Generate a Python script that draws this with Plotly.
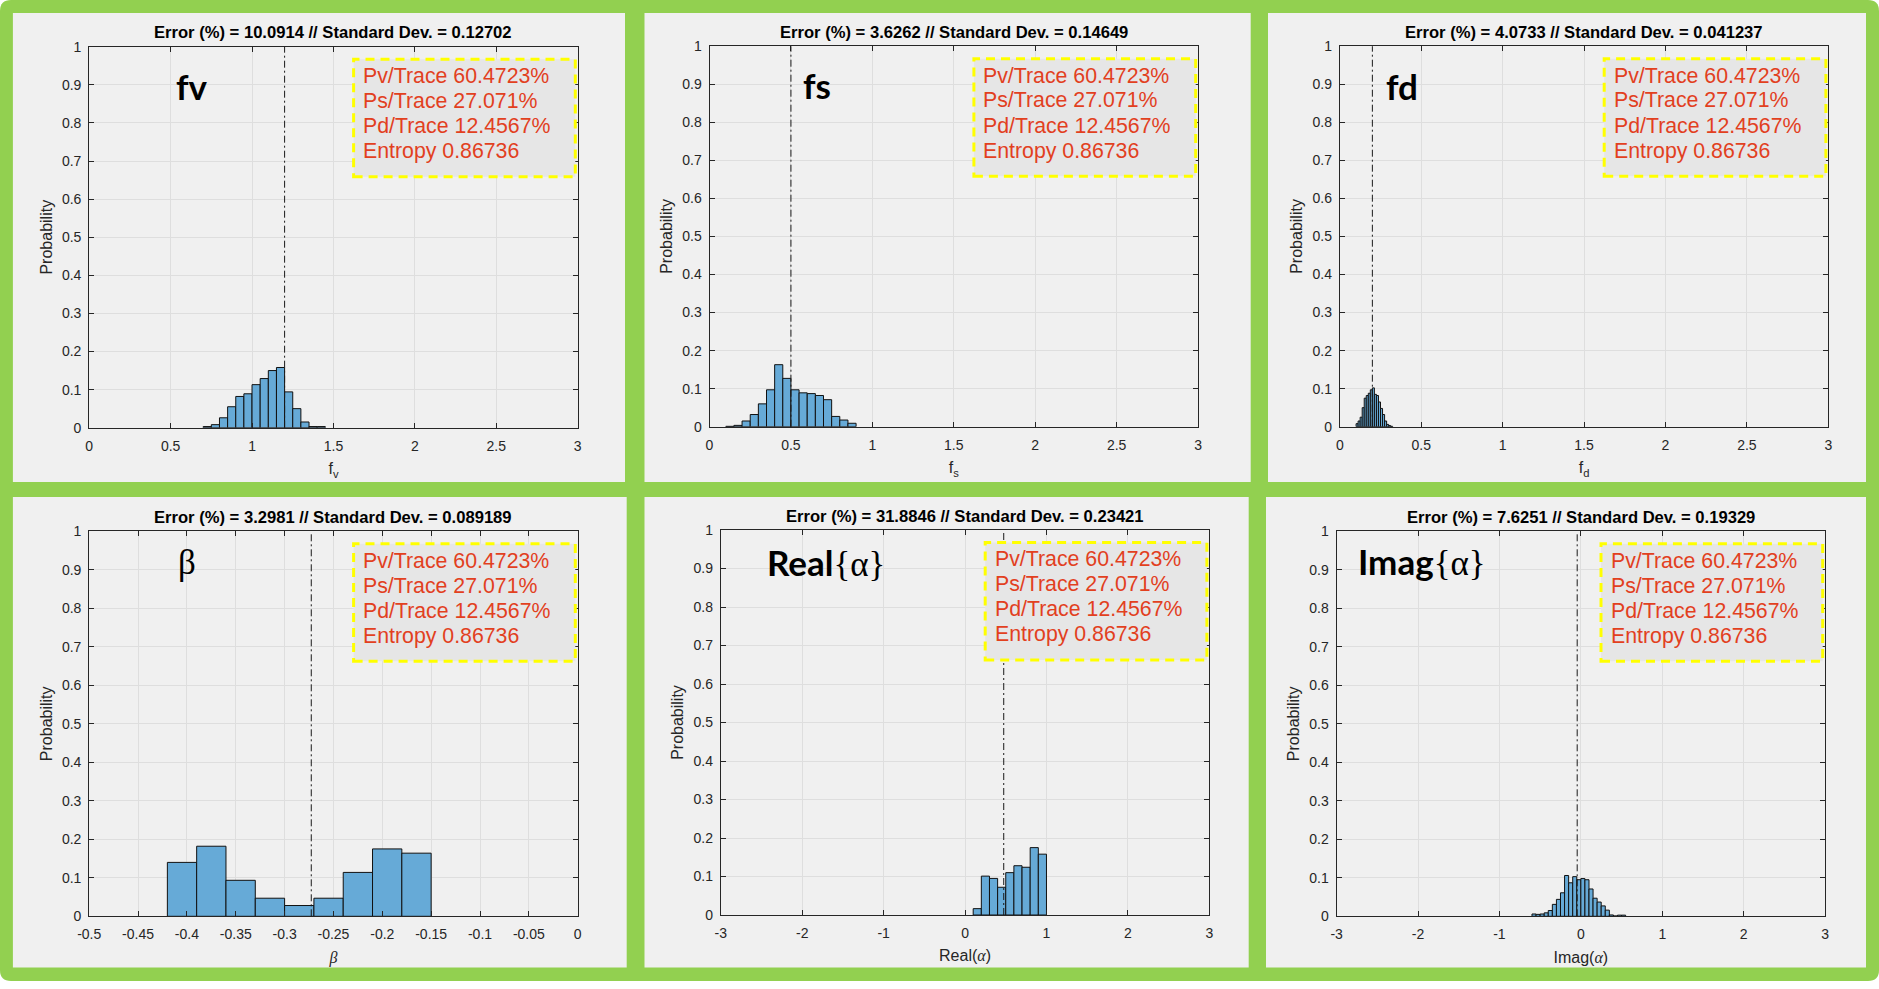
import numpy as np
import plotly.graph_objects as go

W, H = 1879, 989

# ---------------- data ----------------
titles = [
    "Error (%) = 10.0914 // Standard Dev. = 0.12702",
    "Error (%) = 3.6262 // Standard Dev. = 0.14649",
    "Error (%) = 4.0733 // Standard Dev. = 0.041237",
    "Error (%) = 3.2981 // Standard Dev. = 0.089189",
    "Error (%) = 31.8846 // Standard Dev. = 0.23421",
    "Error (%) = 7.6251 // Standard Dev. = 0.19329",
]
box_lines = ["Pv/Trace 60.4723%", "Ps/Trace 27.071%", "Pd/Trace 12.4567%", "Entropy 0.86736"]

fv_start, fv_bin = 0.70, 0.05
fv_prob = [0.003, 0.008, 0.026, 0.055, 0.082, 0.089, 0.113, 0.129, 0.150, 0.158,
           0.094, 0.050, 0.015, 0.003, 0.003]

fs_start, fs_bin = 0.10, 0.05
fs_prob = [0.001, 0.0035, 0.015, 0.032, 0.060, 0.097, 0.163, 0.127, 0.097, 0.089,
           0.087, 0.082, 0.071, 0.027, 0.0175, 0.009]

fd_start, fd_bin = 0.10, 0.0125
fd_prob = [0.008, 0.015, 0.025, 0.050, 0.075, 0.082, 0.088, 0.097, 0.102, 0.085,
           0.082, 0.065, 0.048, 0.032, 0.015, 0.006, 0.003, 0.001]

beta_start, beta_bin = -0.42, 0.03
beta_prob = [0.140, 0.182, 0.0935, 0.047, 0.028, 0.047, 0.114, 0.175, 0.164]

rea_start, rea_bin = 0.10, 0.10
rea_prob = [0.0165, 0.101, 0.095, 0.072, 0.110, 0.128, 0.124, 0.175, 0.158]

ima_start, ima_bin = -0.60, 0.05
ima_prob = [0.006, 0.005, 0.006, 0.009, 0.015, 0.031, 0.044, 0.061, 0.106, 0.087,
            0.103, 0.095, 0.098, 0.095, 0.071, 0.047, 0.037, 0.027, 0.016, 0.0035,
            0.001, 0.003, 0.003]

true_values = [1.2, 0.5, 0.2, -0.2727, 0.475, -0.045]

x_ranges = [[0, 3], [0, 3], [0, 3], [-0.5, 0], [-3, 3], [-3, 3]]
x_ticks = [
    [0, 0.5, 1, 1.5, 2, 2.5, 3],
    [0, 0.5, 1, 1.5, 2, 2.5, 3],
    [0, 0.5, 1, 1.5, 2, 2.5, 3],
    [-0.5, -0.45, -0.4, -0.35, -0.3, -0.25, -0.2, -0.15, -0.1, -0.05, 0],
    [-3, -2, -1, 0, 1, 2, 3],
    [-3, -2, -1, 0, 1, 2, 3],
]
y_ticks = [0, 0.1, 0.2, 0.3, 0.4, 0.5, 0.6, 0.7, 0.8, 0.9, 1]

SERIF = "Liberation Serif, Times New Roman, serif"
x_titles = [
    "f<sub>v</sub>",
    "f<sub>s</sub>",
    "f<sub>d</sub>",
    "<i><span style='font-family:%s'>β</span></i>" % SERIF,
    "Real(<i><span style='font-family:%s'>α</span></i>)" % SERIF,
    "Imag(<i><span style='font-family:%s'>α</span></i>)" % SERIF,
]
big_labels = [
    "<b>fv</b>",
    "<b>fs</b>",
    "<b>fd</b>",
    "<span style='font-family:%s'>β</span>" % SERIF,
    "<b>Real</b><span style='font-family:%s'>{α}</span>" % SERIF,
    "<b>Imag</b><span style='font-family:%s'>{α}</span>" % SERIF,
]

series = [
    (fv_start, fv_bin, fv_prob),
    (fs_start, fs_bin, fs_prob),
    (fd_start, fd_bin, fd_prob),
    (beta_start, beta_bin, beta_prob),
    (rea_start, rea_bin, rea_prob),
    (ima_start, ima_bin, ima_prob),
]

# ---------------- layout geometry (pixels) ----------------
plot_px = [
    (89.2, 46.7, 577.7, 427.7),
    (709.5, 46.2, 1198.1, 426.7),
    (1339.8, 46.2, 1828.3, 426.7),
    (89.2, 531.3, 577.7, 916.3),
    (720.8, 530.0, 1209.3, 915.0),
    (1336.6, 531.3, 1825.1, 916.3),
]
panel_px = [
    (12.9, 13, 625, 482),
    (644.5, 13, 1250.7, 482),
    (1268, 13, 1866, 482),
    (12.9, 497, 626.7, 967.5),
    (644.5, 497, 1248.7, 967.5),
    (1266, 497, 1866, 967.5),
]
title_y_px = [32.5, 32.5, 32.5, 517, 516.5, 517]
big_px = [(192, 86), (816.6, 84.5), (1401.5, 86), (187, 562.5), (826, 562), (1421.7, 561.5)]

FONT = "Liberation Sans, Arial, Helvetica, sans-serif"
AX = "#262626"
GREEN = "#92D050"
PANEL = "#F0F0F0"
BAR = "#66AAD7"
TXT_RED = "#E2401E"


def px(x):
    return x / W


def py(y):
    return 1 - y / H


fig = go.Figure()
shapes = []
annotations = []

# rounded green frame
x0, y0, x1, y1, r = 0, 0, W, 981, 11
path = (f"M {px(x0 + r)},{py(y0)} L {px(x1 - r)},{py(y0)} Q {px(x1)},{py(y0)} {px(x1)},{py(y0 + r)} "
        f"L {px(x1)},{py(y1 - r)} Q {px(x1)},{py(y1)} {px(x1 - r)},{py(y1)} "
        f"L {px(x0 + r)},{py(y1)} Q {px(x0)},{py(y1)} {px(x0)},{py(y1 - r)} "
        f"L {px(x0)},{py(y0 + r)} Q {px(x0)},{py(y0)} {px(x0 + r)},{py(y0)} Z")
shapes.append(dict(type="path", path=path, xref="paper", yref="paper",
                   fillcolor=GREEN, line=dict(width=0), layer="below"))

for i in range(6):
    n = "" if i == 0 else str(i + 1)
    xa, ya = "x" + n, "y" + n
    L, T, R, B = plot_px[i]
    GL, GT, GR, GB = panel_px[i]

    shapes.append(dict(type="rect", xref="paper", yref="paper",
                       x0=px(GL), x1=px(GR), y0=py(GB), y1=py(GT),
                       fillcolor=PANEL, line=dict(width=0), layer="below"))

    start, binw, prob = series[i]
    centers = start + binw * (np.arange(len(prob)) + 0.5)
    fig.add_trace(go.Bar(
        x=centers, y=prob, width=binw,
        marker=dict(color=BAR, line=dict(color="#111111", width=1)),
        xaxis=xa, yaxis=ya, showlegend=False, hoverinfo="x+y",
    ))

    xt = x_ticks[i]
    xtext = ["0" if v == 0 else "%g" % v for v in xt]
    axis_common = dict(
        showline=True, linecolor=AX, linewidth=1, mirror="allticks",
        ticks="inside", ticklen=5, tickcolor=AX, tickwidth=1,
        showgrid=True, gridcolor="#DEDEDE", gridwidth=1, zeroline=False,
        tickfont=dict(family=FONT, size=14, color=AX), automargin=False,
    )
    fig.layout["xaxis" + n] = dict(
        axis_common, domain=[px(L), px(R)], range=x_ranges[i],
        tickmode="array", tickvals=xt, ticktext=xtext,
        anchor=ya, ticklabelstandoff=5,
        title=dict(text=x_titles[i], font=dict(family=FONT, size=16, color=AX), standoff=10),
    )
    fig.layout["yaxis" + n] = dict(
        axis_common, domain=[py(B), py(T)], range=[0, 1],
        tickmode="array", tickvals=y_ticks, ticktext=["%g" % v for v in y_ticks],
        anchor=xa, ticklabelstandoff=4,
        title=dict(text="Probability", font=dict(family=FONT, size=16, color=AX), standoff=5),
    )

    # true-value dash-dot line
    shapes.append(dict(type="line", xref=xa, yref=ya + " domain",
                       x0=true_values[i], x1=true_values[i], y0=0, y1=1,
                       line=dict(color="#1A1A1A", width=1, dash="7px,3px,2px,3px"),
                       layer="above"))

    # info box
    bL, bR = L + 264.4, R - 2.4
    bT, bB = T + 12.5, T + 130.0
    shapes.append(dict(type="rect", xref="paper", yref="paper",
                       x0=px(bL), x1=px(bR), y0=py(bB), y1=py(bT),
                       fillcolor="#E6E6E6", line=dict(color="#FFFF00", width=3, dash="9px,6px"),
                       layer="above"))
    for k, line in enumerate(box_lines):
        annotations.append(dict(
            text=line, xref="paper", yref="paper", x=px(bL + 7.5), y=py(T + 29.3 + 25 * k),
            xanchor="left", yanchor="middle", showarrow=False,
            font=dict(family=FONT, size=21.3, color=TXT_RED),
        ))

    # title
    annotations.append(dict(
        text="<b>" + titles[i] + "</b>", xref="paper", yref="paper",
        x=px((L + R) / 2), y=py(title_y_px[i]), xanchor="center", yanchor="middle",
        showarrow=False, font=dict(family=FONT, size=16.6, color="#000000"),
    ))

    # big label
    bx, by = big_px[i]
    annotations.append(dict(
        text=big_labels[i], xref="paper", yref="paper", x=px(bx), y=py(by),
        xanchor="center", yanchor="middle", showarrow=False,
        font=dict(family="Lato, Open Sans, sans-serif", size=35, color="#000000"),
    ))

fig.update_layout(
    width=W, height=H, autosize=False,
    margin=dict(l=0, r=0, t=0, b=0, pad=0, autoexpand=False),
    paper_bgcolor="#FFFFFF", plot_bgcolor="#FFFFFF",
    shapes=shapes, annotations=annotations,
    showlegend=False, barmode="overlay",
)

fig.write_html(
    "out.html",
    config={"displayModeBar": False},
    post_script="document.body.style.margin='0';document.body.style.padding='0';"
                "document.body.style.overflow='hidden';",
)
